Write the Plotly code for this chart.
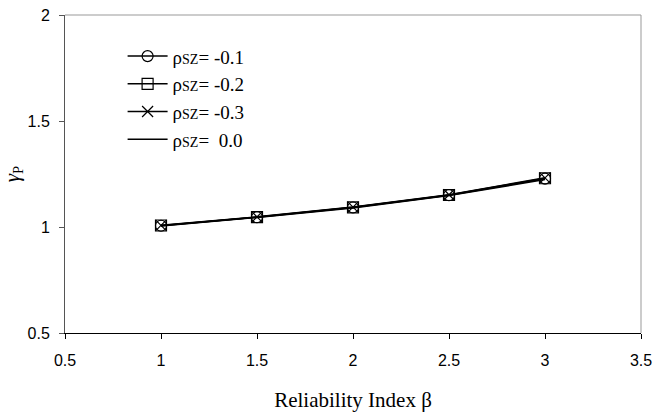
import plotly.graph_objects as go

beta = [1, 1.5, 2, 2.5, 3]
gamma_m01 = [1.006, 1.046, 1.092, 1.150, 1.228]
gamma_m02 = [1.007, 1.047, 1.093, 1.151, 1.230]
gamma_m03 = [1.008, 1.048, 1.094, 1.152, 1.232]
gamma_00 = [1.005, 1.045, 1.090, 1.148, 1.224]

names = ["-0.1", "-0.2", "-0.3", " 0.0"]
symbols = ["circle-open", "square-open", "x-thin-open", None]
series = [gamma_m01, gamma_m02, gamma_m03, gamma_00]

fig = go.Figure()
for nm, sym, ys in zip(names, symbols, series):
    label = "ρ<span style='font-size:14px'>SZ</span>= " + nm.replace(" ", "\u00a0")
    if sym is None:
        fig.add_trace(go.Scatter(x=beta, y=ys, mode="lines", name=label,
                                 line=dict(color="black", width=1.5)))
    else:
        fig.add_trace(go.Scatter(x=beta, y=ys, mode="lines+markers", name=label,
                                 line=dict(color="black", width=1.5),
                                 marker=dict(symbol=sym, size=11, color="black",
                                             line=dict(color="black", width=1.2))))

fig.update_layout(
    width=654, height=420,
    margin=dict(l=65, r=13, t=15, b=87),
    paper_bgcolor="white", plot_bgcolor="white",
    showlegend=True,
    legend=dict(x=0.1, y=0.93, xanchor="left", yanchor="top",
                font=dict(family="Liberation Serif", size=19, color="black"),
                bgcolor="rgba(0,0,0,0)", tracegroupgap=0, itemwidth=40),
    font=dict(family="Liberation Sans", color="black"),
)
fig.update_xaxes(range=[0.5, 3.5], tickvals=[0.5, 1, 1.5, 2, 2.5, 3, 3.5],
                 ticktext=["0.5", "1", "1.5", "2", "2.5", "3", "3.5"],
                 showgrid=False, zeroline=False, showline=True, linecolor="black",
                 linewidth=1, ticks="outside", ticklen=5, tickcolor="black",
                 ticklabelstandoff=8, automargin=False,
                 tickfont=dict(family="Liberation Sans", size=16),
                 title=dict(text="Reliability Index β", standoff=24,
                            font=dict(family="Liberation Serif", size=21)))
fig.update_yaxes(range=[0.5, 2], tickvals=[0.5, 1, 1.5, 2],
                 ticktext=["0.5", "1", "1.5", "2"],
                 showgrid=False, zeroline=False, showline=True, linecolor="#555",
                 linewidth=1, ticks="outside", ticklen=5, tickcolor="#555",
                 ticklabelstandoff=6, automargin=False,
                 tickfont=dict(family="Liberation Sans", size=16),
                 title=dict(text="<i>γ</i><sub>P</sub>", standoff=22,
                            font=dict(family="Liberation Serif", size=21)))
# top and right border in gray
fig.add_shape(type="line", xref="paper", yref="paper", x0=0, x1=1, y0=1, y1=1,
              line=dict(color="#999", width=1))
fig.add_shape(type="line", xref="paper", yref="paper", x0=1, x1=1, y0=0, y1=1,
              line=dict(color="#999", width=1))

fig.write_html("out.html")
